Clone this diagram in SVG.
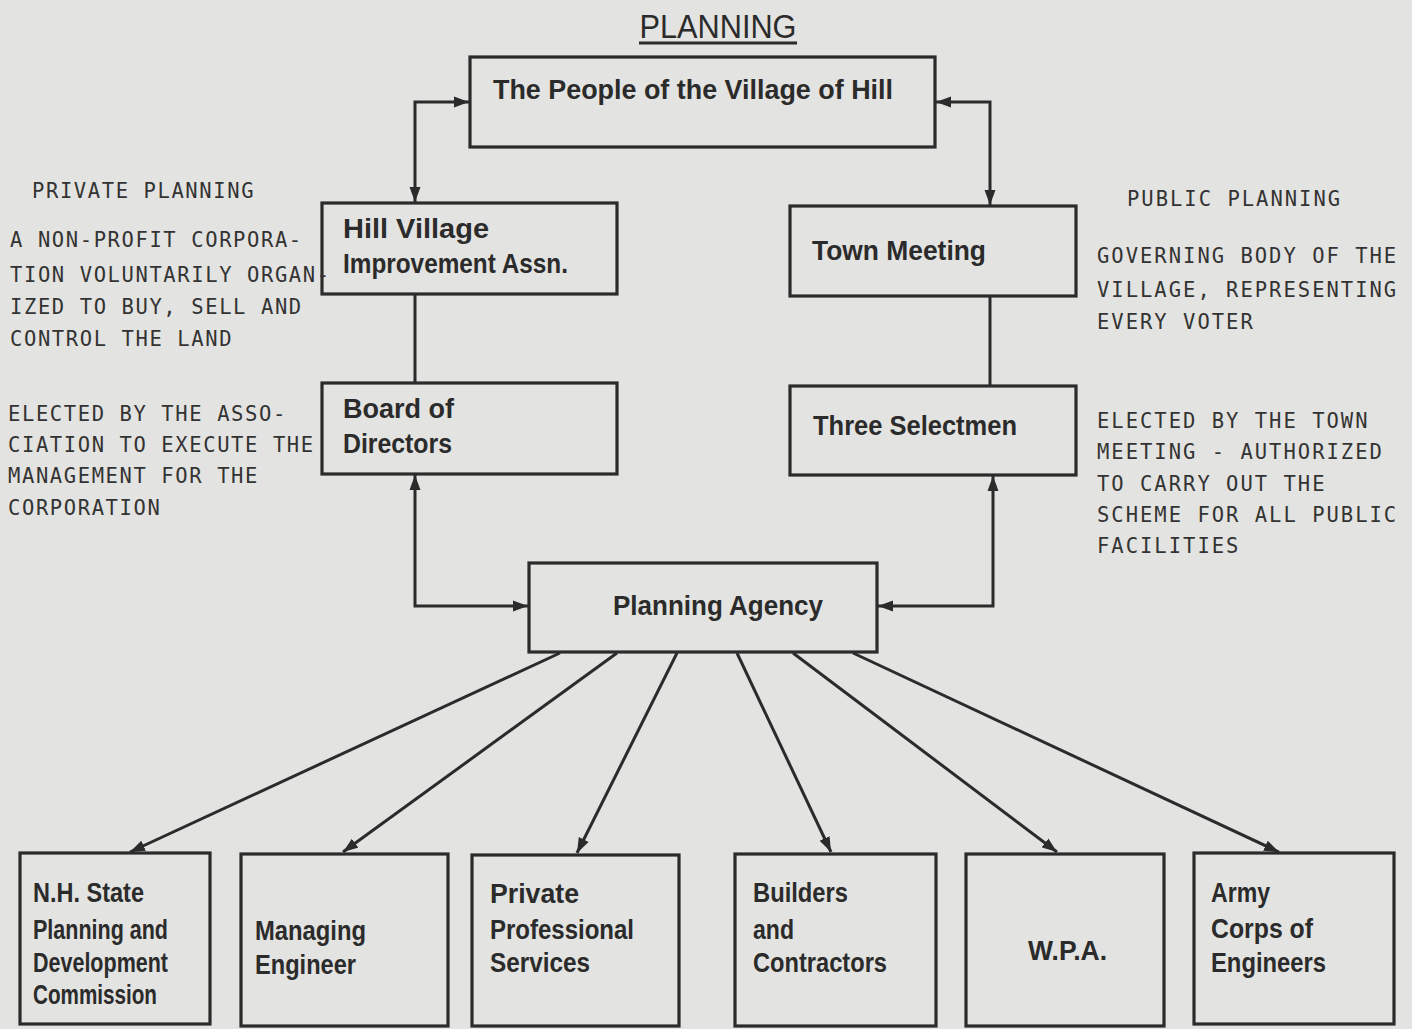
<svg xmlns="http://www.w3.org/2000/svg" width="1412" height="1029" viewBox="0 0 1412 1029">
<style>
.bg{fill:#e3e3e1}
.box{fill:none;stroke:#2b2b2b;stroke-width:3.2}
.ln{fill:none;stroke:#2b2b2b;stroke-width:3}
.nt{font-family:"Liberation Sans",Arial,sans-serif;font-weight:bold;font-size:27px;fill:#2b2b2b}
.st{font-family:"DejaVu Sans Mono","Liberation Mono",monospace;font-size:20.5px;fill:#333;letter-spacing:1.6px}
.sr{letter-spacing:2px}
.title{font-family:"Liberation Sans",Arial,sans-serif;font-size:34px;fill:#2b2b2b}
</style>
<defs>
<marker id="ah" markerUnits="userSpaceOnUse" markerWidth="16" markerHeight="12" refX="15" refY="6" orient="auto-start-reverse" viewBox="0 0 16 12">
<path d="M0,0.5 L15,6 L0,11.5 z" fill="#2b2b2b"/>
</marker>
</defs>
<rect class="bg" x="0" y="0" width="1412" height="1029"/>

<g id="title">
<text class="title" x="718" y="38" text-anchor="middle" textLength="157" lengthAdjust="spacingAndGlyphs">PLANNING</text>
<line x1="639" y1="43" x2="797" y2="43" stroke="#2b2b2b" stroke-width="3"/>
</g>

<g id="connectors">
<path class="ln" d="M415,202 V102 H469" marker-start="url(#ah)" marker-end="url(#ah)"/>
<path class="ln" d="M990,205 V102 H936" marker-start="url(#ah)" marker-end="url(#ah)"/>
<line class="ln" x1="415" y1="294" x2="415" y2="383"/>
<line class="ln" x1="990" y1="296" x2="990" y2="386"/>
<path class="ln" d="M415,475 V606 H528" marker-start="url(#ah)" marker-end="url(#ah)"/>
<path class="ln" d="M993,476 V606 H878" marker-start="url(#ah)" marker-end="url(#ah)"/>
<line class="ln" x1="560" y1="653" x2="130" y2="852" marker-end="url(#ah)"/>
<line class="ln" x1="617" y1="653" x2="343" y2="852" marker-end="url(#ah)"/>
<line class="ln" x1="677" y1="653" x2="577" y2="853" marker-end="url(#ah)"/>
<line class="ln" x1="737" y1="653" x2="831" y2="852" marker-end="url(#ah)"/>
<line class="ln" x1="793" y1="653" x2="1057" y2="852" marker-end="url(#ah)"/>
<line class="ln" x1="853" y1="653" x2="1279" y2="852" marker-end="url(#ah)"/>
</g>

<g id="people">
<rect class="box" x="470" y="57" width="465" height="90"/>
<text class="nt" x="493" y="99" font-size="29" textLength="400" lengthAdjust="spacingAndGlyphs">The People of the Village of Hill</text>
</g>

<g id="hill-village">
<rect class="box" x="322" y="203" width="295" height="91"/>
<text class="nt" x="343" y="238" textLength="146" lengthAdjust="spacingAndGlyphs">Hill Village</text>
<text class="nt" x="343" y="273" textLength="225" lengthAdjust="spacingAndGlyphs">Improvement Assn.</text>
</g>

<g id="town-meeting">
<rect class="box" x="790" y="206" width="286" height="90"/>
<text class="nt" x="812" y="260" textLength="174" lengthAdjust="spacingAndGlyphs">Town Meeting</text>
</g>

<g id="board">
<rect class="box" x="322" y="383" width="295" height="91"/>
<text class="nt" x="343" y="418" textLength="111" lengthAdjust="spacingAndGlyphs">Board of</text>
<text class="nt" x="343" y="453" textLength="109" lengthAdjust="spacingAndGlyphs">Directors</text>
</g>

<g id="selectmen">
<rect class="box" x="790" y="386" width="286" height="89"/>
<text class="nt" x="813" y="435" textLength="204" lengthAdjust="spacingAndGlyphs">Three Selectmen</text>
</g>

<g id="planning-agency">
<rect class="box" x="529" y="563" width="348" height="89"/>
<text class="nt" x="613" y="615" textLength="210" lengthAdjust="spacingAndGlyphs">Planning Agency</text>
</g>

<g id="nh-state">
<rect class="box" x="20" y="853" width="190" height="171"/>
<text class="nt" x="33" y="902" textLength="111" lengthAdjust="spacingAndGlyphs">N.H. State</text>
<text class="nt" x="33" y="939" textLength="135" lengthAdjust="spacingAndGlyphs">Planning and</text>
<text class="nt" x="33" y="972" textLength="135" lengthAdjust="spacingAndGlyphs">Development</text>
<text class="nt" x="33" y="1004" textLength="124" lengthAdjust="spacingAndGlyphs">Commission</text>
</g>

<g id="managing-engineer">
<rect class="box" x="241" y="854" width="207" height="172"/>
<text class="nt" x="255" y="940" textLength="111" lengthAdjust="spacingAndGlyphs">Managing</text>
<text class="nt" x="255" y="974" textLength="101" lengthAdjust="spacingAndGlyphs">Engineer</text>
</g>

<g id="private-professional">
<rect class="box" x="472" y="855" width="207" height="171"/>
<text class="nt" x="490" y="903" textLength="89" lengthAdjust="spacingAndGlyphs">Private</text>
<text class="nt" x="490" y="939" textLength="144" lengthAdjust="spacingAndGlyphs">Professional</text>
<text class="nt" x="490" y="972" textLength="100" lengthAdjust="spacingAndGlyphs">Services</text>
</g>

<g id="builders">
<rect class="box" x="735" y="854" width="201" height="172"/>
<text class="nt" x="753" y="902" textLength="95" lengthAdjust="spacingAndGlyphs">Builders</text>
<text class="nt" x="753" y="939" textLength="41" lengthAdjust="spacingAndGlyphs">and</text>
<text class="nt" x="753" y="972" textLength="134" lengthAdjust="spacingAndGlyphs">Contractors</text>
</g>

<g id="wpa">
<rect class="box" x="966" y="854" width="198" height="172"/>
<text class="nt" x="1028" y="960" textLength="79" lengthAdjust="spacingAndGlyphs">W.P.A.</text>
</g>

<g id="army-corps">
<rect class="box" x="1194" y="853" width="200" height="171"/>
<text class="nt" x="1211" y="902" textLength="59" lengthAdjust="spacingAndGlyphs">Army</text>
<text class="nt" x="1211" y="938" textLength="102" lengthAdjust="spacingAndGlyphs">Corps of</text>
<text class="nt" x="1211" y="972" textLength="115" lengthAdjust="spacingAndGlyphs">Engineers</text>
</g>

<g id="private-planning-notes">
<text class="st" x="32" y="198">PRIVATE PLANNING</text>
<text class="st" x="10" y="247">A NON-PROFIT CORPORA-</text>
<text class="st" x="10" y="282">TION VOLUNTARILY ORGAN-</text>
<text class="st" x="10" y="314">IZED TO BUY, SELL AND</text>
<text class="st" x="10" y="346">CONTROL THE LAND</text>
<text class="st" x="8" y="421">ELECTED BY THE ASSO-</text>
<text class="st" x="8" y="452">CIATION TO EXECUTE THE</text>
<text class="st" x="8" y="483">MANAGEMENT FOR THE</text>
<text class="st" x="8" y="515">CORPORATION</text>
</g>

<g id="public-planning-notes">
<text class="st sr" x="1127" y="206">PUBLIC PLANNING</text>
<text class="st sr" x="1097" y="263">GOVERNING BODY OF THE</text>
<text class="st sr" x="1097" y="297">VILLAGE, REPRESENTING</text>
<text class="st sr" x="1097" y="329">EVERY VOTER</text>
<text class="st sr" x="1097" y="428">ELECTED BY THE TOWN</text>
<text class="st sr" x="1097" y="459">MEETING - AUTHORIZED</text>
<text class="st sr" x="1097" y="491">TO CARRY OUT THE</text>
<text class="st sr" x="1097" y="522">SCHEME FOR ALL PUBLIC</text>
<text class="st sr" x="1097" y="553">FACILITIES</text>
</g>
</svg>
